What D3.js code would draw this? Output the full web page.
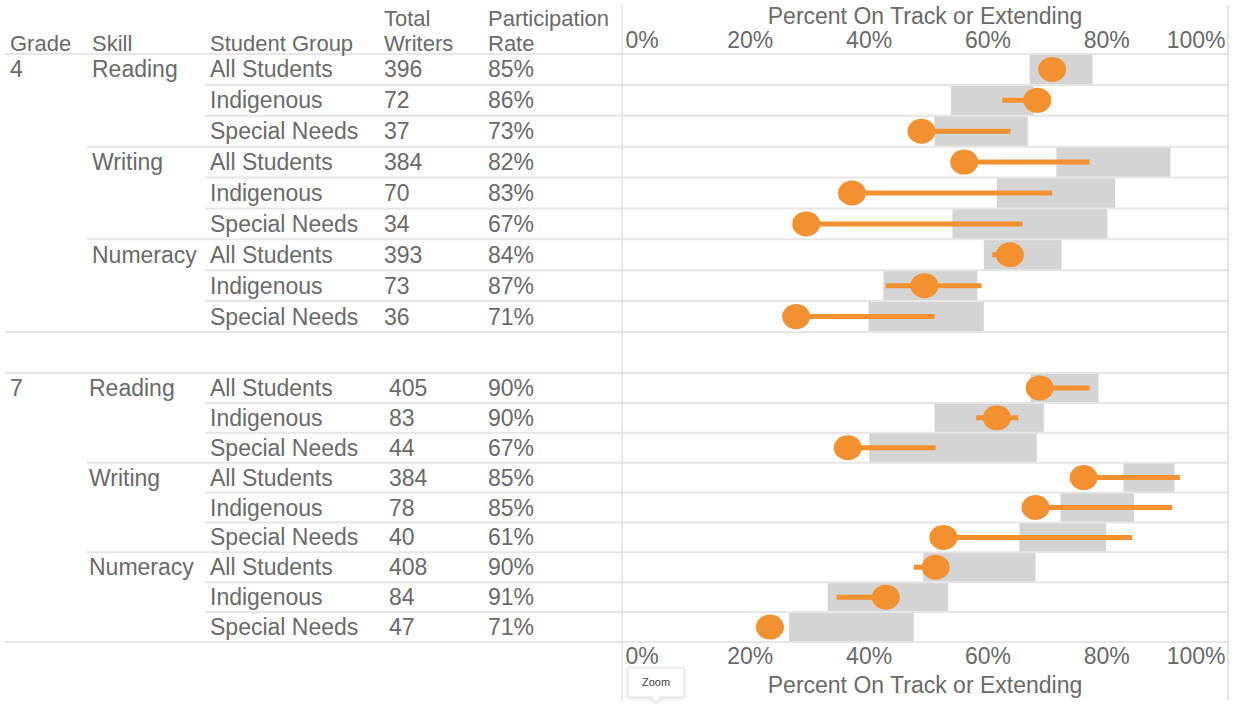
<!DOCTYPE html>
<html>
<head>
<meta charset="utf-8">
<script src="https://cdn.jsdelivr.net/npm/d3@7"></script>
<style>
    body { margin: 0; background: #fff; }
    text { font-family: "Liberation Sans", Arial, sans-serif; fill: #6a6a6a; }
</style>
</head>
<body>
<div id="chart"></div>
<script>
// table values
var grades = ["4", "7"];
var skills = ["Reading", "Writing", "Numeracy"];
var groups = ["All Students", "Indigenous", "Special Needs"];
var totalWriters = [396, 72, 37, 384, 70, 34, 393, 73, 36,
                    405, 83, 44, 384, 78, 40, 408, 84, 47];
var participation = [85, 86, 73, 82, 83, 67, 84, 87, 71,
                     90, 90, 67, 85, 85, 61, 90, 91, 71];

// percent on track (dot), orange line ends, grey range
var onTrack   = [70.9, 68.4, 48.9, 56.1, 37.2, 29.5, 63.8, 49.4, 27.8,
                 68.8, 61.6, 36.5, 76.2, 68.1, 52.6, 51.3, 42.9, 23.4];
var lineLow   = [70.2, 62.5, 48.9, 56.1, 37.2, 29.5, 60.8, 42.9, 27.8,
                 68.8, 58.1, 36.5, 76.2, 68.1, 52.6, 47.6, 34.6, 23.4];
var lineHigh  = [71.5, 68.4, 63.9, 77.2, 70.9, 65.9, 63.8, 59.0, 51.1,
                 77.2, 65.2, 51.3, 92.4, 91.1, 84.4, 51.3, 42.9, 23.4];
var rangeLow  = [67.1, 53.9, 51.1, 71.6, 61.6, 54.1, 59.4, 42.5, 40.0,
                 67.3, 51.1, 40.1, 82.9, 72.3, 65.4, 49.2, 33.1, 26.6];
var rangeHigh = [77.7, 67.8, 66.8, 90.8, 81.5, 80.2, 72.5, 58.3, 59.4,
                 78.7, 69.5, 68.3, 91.5, 84.7, 80.0, 68.1, 53.4, 47.6];
var ticks = [0, 20, 40, 60, 80, 100];

var width = 1234, height = 704;
var orange = "#f39130", grey = "#d4d4d4", rule = "#e6e6e6";
var panelLeft = 622, panelRight = 1228;
var blocks = [[54, 332], [373, 642]];
var col = { grade: 10, skill: 92, group: 210, total: 384, rate: 488 };

var rows = [];
grades.forEach(function (g, gi) {
    skills.forEach(function (s, si) {
        groups.forEach(function (grp, ki) {
            var i = gi * 9 + si * 3 + ki;
            rows.push({
                grade: g, gi: gi, skill: s, si: si, group: grp, ki: ki,
                total: totalWriters[i], rate: participation[i],
                value: onTrack[i], lo: lineLow[i], hi: lineHigh[i],
                rlo: rangeLow[i], rhi: rangeHigh[i]
            });
        });
    });
});

var x = d3.scaleLinear().domain([0, 100]).range([631, 1225]);
var yBands = blocks.map(function (b) {
    return d3.scaleBand().domain(d3.range(9)).range(b).padding(0);
});
function yTop(d) { return yBands[d.gi](d.si * 3 + d.ki); }
function bw(d) { return yBands[d.gi].bandwidth(); }
function yMid(d) { return yTop(d) + bw(d) / 2; }

var svg = d3.select("#chart").append("svg")
    .attr("width", width).attr("height", height);

// grey ranges
svg.append("g").selectAll("rect")
    .data(rows).enter().append("rect")
    .attr("x", function (d) { return x(d.rlo); })
    .attr("width", function (d) { return x(d.rhi) - x(d.rlo); })
    .attr("y", function (d) { return yTop(d); })
    .attr("height", function (d) { return bw(d); })
    .attr("fill", grey);

// rules
var rules = svg.append("g").attr("stroke", rule).attr("stroke-width", 2);
rules.append("line").attr("x1", 5).attr("x2", panelRight).attr("y1", 54).attr("y2", 54);
rows.forEach(function (d) {
    if (d.si === 0 && d.ki === 0) return;
    var x1 = d.ki === 0 ? 87 : 205;
    rules.append("line").attr("x1", x1).attr("x2", panelRight)
        .attr("y1", yTop(d)).attr("y2", yTop(d));
});
[332, 373, 642].forEach(function (yy) {
    rules.append("line").attr("x1", 5).attr("x2", panelRight).attr("y1", yy).attr("y2", yy);
});
svg.append("line").attr("x1", panelLeft).attr("x2", panelLeft)
    .attr("y1", 5).attr("y2", 700).attr("stroke", "#e0e0e0").attr("stroke-width", 1.5);
svg.append("line").attr("x1", panelRight).attr("x2", panelRight)
    .attr("y1", 5).attr("y2", 700).attr("stroke", "#dcdcdc").attr("stroke-width", 1.5);

// orange lines and dots
svg.append("g").selectAll("line")
    .data(rows.filter(function (d) { return d.hi > d.lo; })).enter().append("line")
    .attr("x1", function (d) { return x(d.lo); })
    .attr("x2", function (d) { return x(d.hi); })
    .attr("y1", yMid).attr("y2", yMid)
    .attr("stroke", orange).attr("stroke-width", 5);

svg.append("g").selectAll("ellipse")
    .data(rows).enter().append("ellipse")
    .attr("cx", function (d) { return x(d.value); })
    .attr("cy", yMid)
    .attr("rx", 14).attr("ry", 12.5)
    .attr("fill", orange);

// table text
var fs = "23px";
var head = svg.append("g").attr("font-size", "22px");
head.append("text").attr("x", col.grade).attr("y", 51).text("Grade");
head.append("text").attr("x", col.skill).attr("y", 51).text("Skill");
head.append("text").attr("x", col.group).attr("y", 51).text("Student Group");
head.append("text").attr("x", col.total).attr("y", 26).text("Total");
head.append("text").attr("x", col.total).attr("y", 51).text("Writers");
head.append("text").attr("x", col.rate).attr("y", 26).text("Participation");
head.append("text").attr("x", col.rate).attr("y", 51).text("Rate");

var body = svg.append("g").attr("font-size", fs);
rows.forEach(function (d) {
    var by = yMid(d) + 8;
    if (d.si === 0 && d.ki === 0) body.append("text").attr("x", col.grade).attr("y", by).text(d.grade);
    if (d.ki === 0) body.append("text").attr("x", col.skill - (d.gi ? 3 : 0)).attr("y", by).text(d.skill);
    body.append("text").attr("x", col.group).attr("y", by).text(d.group);
    body.append("text").attr("x", col.total + (d.gi ? 5 : 0)).attr("y", by).text(d.total);
    body.append("text").attr("x", col.rate).attr("y", by).text(d.rate + "%");
});

// axes
function drawAxis(axis, yy) {
    var g = svg.append("g").attr("transform", "translate(0," + yy + ")")
        .call(axis.tickValues(ticks).tickSize(0).tickPadding(0)
            .tickFormat(function (d) { return d + "%"; }));
    g.select(".domain").remove();
    g.selectAll("text").attr("font-size", fs)
        .attr("font-family", "Liberation Sans, Arial, sans-serif")
        .attr("fill", "#6a6a6a").attr("dy", 0).attr("y", 0);
    g.selectAll(".tick text").filter(function (d) { return d === 0; })
        .attr("text-anchor", "start").attr("x", -6);
    g.selectAll(".tick text").filter(function (d) { return d === 100; })
        .attr("text-anchor", "end");
}
drawAxis(d3.axisTop(x), 48);
drawAxis(d3.axisBottom(x), 664);

var mid = (panelLeft + panelRight) / 2;
svg.append("text").attr("x", mid).attr("y", 24).attr("text-anchor", "middle")
    .attr("font-size", fs).text("Percent On Track or Extending");
svg.append("text").attr("x", mid).attr("y", 693).attr("text-anchor", "middle")
    .attr("font-size", fs).text("Percent On Track or Extending");

// zoom tooltip
var tip = svg.append("g");
tip.append("path")
    .attr("d", "M628,668 H684 V697 H661 L656,702 L651,697 H628 Z")
    .attr("fill", "#fff").attr("stroke", "#e2e2e2")
    .style("filter", "drop-shadow(0 1px 2px rgba(0,0,0,0.15))");
tip.append("text").attr("x", 656).attr("y", 686).attr("text-anchor", "middle")
    .attr("font-size", "11px").style("fill", "#444").text("Zoom");
</script>
</body>
</html>
